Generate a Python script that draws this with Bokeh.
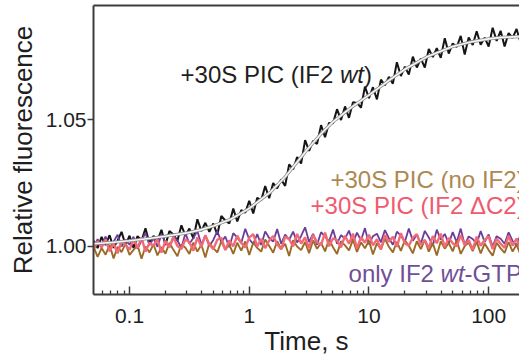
from bokeh.plotting import figure
from bokeh.models import Range1d, FixedTicker, CustomJSTickFormatter, Label, LogAxis, ColumnDataSource
from bokeh.embed import file_html
from bokeh.resources import INLINE

FONT = "Liberation Sans"

# ---- data ----
mantissas = [1.000, 1.080, 1.166, 1.259, 1.359, 1.468, 1.585, 1.711, 1.848, 1.995,
             2.154, 2.326, 2.512, 2.712, 2.929, 3.162, 3.415, 3.687, 3.981, 4.299,
             4.642, 5.012, 5.412, 5.843, 6.310, 6.813, 7.356, 7.943, 8.577, 9.261]
time_s = [round(m * 10 ** d, 6) for d in (-2, -1, 0, 1, 2) for m in mantissas
          if 0.05 <= m * 10 ** d <= 200]

black_trace = [1.0022, 0.9993, 1.0037, 1.0005, 1.0044, 0.9994, 1.0022, 1.0057, 1.0005, 1.0042,
               0.9994, 1.0040, 1.0022, 1.0071, 1.0011, 1.0041, 1.0023, 1.0065, 1.0005, 1.0060,
               1.0047, 1.0022, 1.0083, 1.0042, 1.0070, 1.0031, 1.0107, 1.0060, 1.0093, 1.0057,
               1.0090, 1.0046, 1.0120, 1.0102, 1.0090, 1.0149, 1.0098, 1.0143, 1.0133, 1.0180,
               1.0130, 1.0192, 1.0182, 1.0238, 1.0190, 1.0250, 1.0229, 1.0264, 1.0239, 1.0324,
               1.0304, 1.0353, 1.0327, 1.0420, 1.0377, 1.0417, 1.0405, 1.0479, 1.0431, 1.0488,
               1.0486, 1.0542, 1.0499, 1.0553, 1.0508, 1.0570, 1.0567, 1.0548, 1.0631, 1.0586,
               1.0629, 1.0581, 1.0659, 1.0636, 1.0670, 1.0643, 1.0728, 1.0673, 1.0710, 1.0679,
               1.0750, 1.0707, 1.0742, 1.0707, 1.0780, 1.0748, 1.0783, 1.0745, 1.0823, 1.0762,
               1.0802, 1.0788, 1.0832, 1.0758, 1.0826, 1.0796, 1.0850, 1.0797, 1.0825, 1.0790,
               1.0864, 1.0812, 1.0852, 1.0790, 1.0843, 1.0824, 1.0859, 1.0805, 1.0882]

pink_trace = [0.9986, 1.0020, 0.9995, 1.0027, 0.9980, 1.0012, 0.9972, 1.0019, 1.0007, 0.9986,
              1.0028, 0.9994, 1.0035, 0.9979, 1.0014, 1.0002, 1.0028, 0.9975, 1.0021, 0.9996,
              1.0036, 1.0001, 0.9989, 1.0028, 1.0016, 0.9983, 1.0035, 0.9998, 1.0044, 1.0007,
              0.9989, 1.0026, 1.0034, 0.9985, 1.0023, 1.0000, 1.0042, 1.0013, 0.9995, 1.0034,
              1.0048, 1.0000, 1.0029, 0.9993, 1.0023, 1.0041, 1.0008, 0.9988, 1.0038, 1.0028,
              1.0000, 1.0049, 1.0011, 1.0035, 0.9993, 1.0045, 1.0016, 1.0006, 1.0054, 1.0000,
              1.0032, 1.0024, 0.9996, 1.0042, 1.0010, 1.0050, 0.9992, 1.0036, 1.0014, 1.0046,
              1.0004, 1.0028, 0.9988, 1.0044, 1.0018, 1.0038, 0.9998, 1.0052, 1.0012, 1.0002,
              1.0034, 1.0048, 1.0005, 1.0025, 0.9993, 1.0040, 1.0012, 1.0050, 0.9997, 1.0033,
              1.0012, 1.0000, 1.0044, 1.0005, 1.0025, 0.9987, 1.0038, 1.0002, 1.0025, 1.0039,
              0.9989, 1.0030, 1.0010, 0.9994, 1.0041, 1.0003, 1.0031, 0.9988, 1.0024]

brown_trace = [0.9998, 0.9958, 0.9993, 0.9967, 1.0006, 0.9952, 0.9998, 0.9977, 1.0011, 0.9966,
               0.9986, 1.0004, 0.9951, 0.9999, 0.9976, 1.0008, 0.9964, 0.9997, 0.9971, 1.0014,
               0.9986, 0.9961, 1.0007, 0.9994, 0.9970, 1.0015, 0.9979, 1.0006, 0.9956, 1.0013,
               0.9993, 0.9976, 1.0020, 0.9987, 1.0007, 0.9970, 1.0014, 0.9983, 1.0019, 0.9966,
               1.0014, 0.9994, 0.9979, 1.0027, 1.0001, 0.9975, 1.0020, 0.9990, 1.0010, 0.9962,
               1.0024, 0.9999, 0.9985, 1.0017, 0.9973, 1.0023, 0.9990, 1.0014, 0.9980, 1.0028,
               0.9996, 0.9970, 1.0020, 1.0004, 0.9984, 1.0026, 0.9978, 1.0016, 0.9992, 1.0022,
               0.9968, 1.0012, 0.9988, 1.0030, 0.9998, 0.9976, 1.0018, 0.9982, 1.0024, 1.0002,
               0.9972, 1.0020, 0.9989, 1.0025, 0.9979, 1.0012, 0.9964, 1.0020, 0.9991, 1.0013,
               0.9980, 1.0024, 0.9970, 1.0001, 1.0015, 0.9981, 1.0018, 0.9972, 1.0011, 0.9985,
               0.9963, 1.0014, 0.9992, 0.9974, 1.0017, 0.9979, 1.0007, 0.9966, 1.0010]

purple_trace = [0.9994, 1.0028, 1.0001, 1.0039, 0.9990, 1.0018, 1.0046, 0.9999, 1.0027, 1.0006,
                1.0038, 0.9990, 1.0023, 1.0053, 1.0004, 1.0032, 0.9998, 1.0047, 1.0015, 0.9998,
                1.0040, 1.0023, 0.9993, 1.0052, 1.0010, 1.0033, 1.0061, 1.0006, 1.0042, 1.0001,
                1.0025, 1.0060, 1.0016, 1.0039, 0.9997, 1.0052, 1.0034, 1.0013, 1.0069, 1.0028,
                1.0010, 1.0048, 1.0005, 1.0059, 1.0033, 1.0019, 1.0068, 1.0010, 1.0046, 1.0026,
                1.0058, 1.0015, 1.0041, 1.0075, 1.0017, 1.0049, 1.0006, 1.0056, 1.0038, 1.0020,
                1.0066, 1.0010, 1.0044, 1.0030, 1.0062, 1.0014, 1.0054, 1.0024, 1.0072, 1.0008,
                1.0040, 1.0050, 1.0016, 1.0064, 1.0032, 1.0006, 1.0058, 1.0042, 1.0018, 1.0070,
                1.0022, 1.0046, 1.0011, 1.0061, 1.0035, 1.0002, 1.0066, 1.0026, 1.0049, 1.0011,
                1.0056, 1.0016, 1.0070, 1.0005, 1.0039, 1.0029, 1.0010, 1.0060, 1.0017, 1.0047,
                0.9999, 1.0040, 1.0030, 1.0010, 1.0055, 1.0021, 1.0003, 1.0046, 1.0032]

fit_t = [0.0501, 0.0708, 0.1, 0.151, 0.2, 0.302, 0.398, 0.501, 0.708, 1.0,
         1.51, 2.0, 3.02, 3.98, 5.01, 7.08, 10, 15.1, 20, 30.2,
         50.1, 70.8, 100, 129, 200]
fit_v = [1.0010, 1.0015, 1.0022, 1.0032, 1.0040, 1.0053, 1.0066, 1.0080, 1.0108, 1.0150,
         1.0215, 1.0275, 1.0380, 1.0445, 1.0492, 1.0548, 1.0598, 1.0660, 1.0700, 1.0748,
         1.0790, 1.0808, 1.0820, 1.0826, 1.0830]

x_ticks = [0.1, 1, 10, 100]
x_minor = [m * 10 ** d for d in (-2, -1, 0, 1) for m in range(2, 10) if m * 10 ** d > 0.05]
y_ticks = [1.00, 1.05]

# ---- figure ----
p = figure(width=519, height=360, x_axis_type="log",
           x_range=Range1d(0.05, 181), y_range=Range1d(0.98095, 1.0952),
           output_backend="svg", toolbar_location=None,
           min_border_left=93, min_border_right=0, min_border_top=5, min_border_bottom=66)
p.outline_line_color = None
p.grid.visible = False
p.background_fill_color = "white"
p.border_fill_color = "white"

src = ColumnDataSource(dict(t=time_s, wt=black_trace, dc2=pink_trace,
                            noif2=brown_trace, only=purple_trace))
p.line("t", "wt", source=src, color="#151515", line_width=2.0)
p.line("t", "only", source=src, color="#6a3d9a", line_width=1.8)
p.line("t", "noif2", source=src, color="#9a6a26", line_width=1.9)
p.line("t", "dc2", source=src, color="#f26a76", line_width=2.4)
p.line(fit_t, fit_v, color="#8c8c8c", line_width=3.2)
p.line(fit_t, fit_v, color="#f6f6f6", line_width=1.6)

AX = "#3c3c3c"
xa = p.xaxis[0]
xa.ticker = FixedTicker(ticks=x_ticks, minor_ticks=x_minor)
xa.formatter = CustomJSTickFormatter(code="return tick < 1 ? tick.toFixed(1) : tick.toFixed(0);")
xa.major_tick_in = 8
xa.major_tick_out = 0
xa.minor_tick_in = 4
xa.minor_tick_out = 0
xa.major_label_standoff = 14
xa.axis_label = "Time, s"
xa.axis_label_standoff = 0

ya = p.yaxis[0]
ya.ticker = FixedTicker(ticks=y_ticks, minor_ticks=[])
ya.formatter = CustomJSTickFormatter(code="return tick.toFixed(2);")
ya.major_tick_in = 0
ya.major_tick_out = 6
ya.minor_tick_in = 0
ya.minor_tick_out = 0
ya.major_label_standoff = 1
ya.axis_label = "Relative fluorescence"
ya.axis_label_standoff = 5

for ax in (xa, ya):
    ax.axis_line_color = AX
    ax.axis_line_width = 2
    ax.major_tick_line_color = AX
    ax.minor_tick_line_color = AX
    ax.major_tick_line_width = 1.5
    ax.minor_tick_line_width = 1.3
    ax.major_label_text_font = FONT
    ax.major_label_text_font_size = "21px"
    ax.major_label_text_color = "#1e1e1e"
    ax.axis_label_text_font = FONT
    ax.axis_label_text_font_size = "26px"
    ax.axis_label_text_font_style = "normal"
    ax.axis_label_text_color = "#1e1e1e"

top_axis = LogAxis(ticker=FixedTicker(ticks=[]), major_tick_in=0, major_tick_out=0,
                   minor_tick_in=0, minor_tick_out=0, major_label_text_font_size="0px",
                   axis_line_color=AX, axis_line_width=2)
p.add_layout(top_axis, "above")


def add_label(x, y, parts, color):
    off = 0.0
    for text, style, width in parts:
        p.add_layout(Label(x=x, y=y, x_offset=off, text=text, text_font=FONT,
                           text_font_size="24px", text_font_style=style,
                           text_color=color, text_baseline="middle"))
        off += width


add_label(0.267, 1.0679, [("+30S PIC (IF2 ", "normal", 159.4), ("wt", "italic", 24.0),
                          (")", "normal", 8.0)], "#1e1e1e")
add_label(4.77, 1.0266, [("+30S PIC (no IF2)", "normal", 0)], "#ad8851")
add_label(3.25, 1.0163, [("+30S PIC (IF2 \u0394C2)", "normal", 0)], "#f05a6e")
add_label(6.76, 0.9893, [("only IF2 ", "normal", 92.0), ("wt", "italic", 24.0),
                         ("-GTP", "normal", 0)], "#6f4f96")

open("out.html", "w").write(file_html(p, INLINE))
